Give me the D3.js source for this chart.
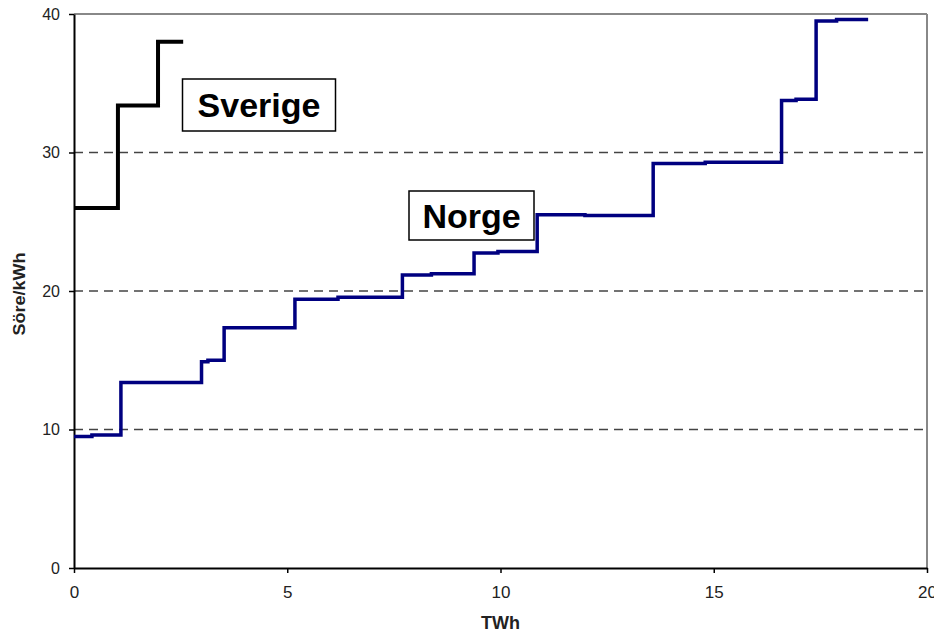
<!DOCTYPE html>
<html>
<head>
<meta charset="utf-8">
<script src="https://cdn.jsdelivr.net/npm/d3@7"></script>
<style>
  body { margin: 0; background: #fff; }
  text { font-family: Arial, "Liberation Sans", sans-serif; }
</style>
</head>
<body>
<div id="chart"></div>
<script>
// step curves: x = start of each step (TWh), y = price (øre/kWh); last x is the end
var sverigeX = [0, 1.03, 1.97, 2.56]
var sverigeY = [26, 33.4, 38]

var norgeX = [0, 0.42, 1.1, 2.99, 3.14, 3.52, 5.18, 6.19, 7.7, 8.38, 9.38, 9.94, 10.86, 11.98, 13.58, 14.8, 16.59, 16.93, 17.4, 17.88, 18.62]
var norgeY = [9.5, 9.6, 13.4, 14.9, 15.0, 17.35, 19.4, 19.55, 21.15, 21.25, 22.75, 22.85, 25.5, 25.45, 29.2, 29.3, 33.75, 33.85, 39.5, 39.6]

var xTicks = [0, 5, 10, 15, 20]
var yTicks = [0, 10, 20, 30, 40]
var gridTicks = [10, 20, 30]

var margin = {top: 14, right: 7, bottom: 67, left: 74},
    width = 934 - margin.left - margin.right,
    height = 635 - margin.top - margin.bottom;

var svg = d3.select("#chart")
  .append("svg")
  .attr("width", 934)
  .attr("height", 635)
  .append("g")
  .attr("transform", "translate(" + margin.left + "," + margin.top + ")");

var x = d3.scaleLinear().domain([0, 20]).range([0, width])
var y = d3.scaleLinear().domain([0, 40]).range([height, 0])

// frame: grey top/right
svg.append("line")
  .attr("x1", 0).attr("x2", width).attr("y1", 0).attr("y2", 0)
  .attr("stroke", "#888").attr("stroke-width", 2)
svg.append("line")
  .attr("x1", width).attr("x2", width).attr("y1", 0).attr("y2", height)
  .attr("stroke", "#888").attr("stroke-width", 2)

// dashed grid
svg.append("g")
  .selectAll("line")
  .data(gridTicks)
  .enter()
  .append("line")
  .attr("x1", 0).attr("x2", width)
  .attr("y1", d => y(d)).attr("y2", d => y(d))
  .attr("stroke", "#444")
  .attr("stroke-width", 1.5)
  .attr("stroke-dasharray", "9,6")

// axes
var yAxis = svg.append("g")
  .call(d3.axisLeft(y).tickValues(yTicks).tickSize(5).tickSizeOuter(0))
yAxis.select(".domain").attr("stroke", "#000").attr("stroke-width", 2)
yAxis.selectAll(".tick line").attr("stroke", "#000").attr("stroke-width", 1.5)
yAxis.selectAll(".tick text").attr("font-size", 16).attr("fill", "#222").attr("x", -14)

var xAxis = svg.append("g")
  .attr("transform", "translate(0," + height + ")")
  .call(d3.axisBottom(x).tickValues(xTicks).tickSize(5).tickSizeOuter(0))
xAxis.select(".domain").attr("stroke", "#000").attr("stroke-width", 2)
xAxis.selectAll(".tick line").attr("stroke", "#000").attr("stroke-width", 1.5)
xAxis.selectAll(".tick text").attr("font-size", 17).attr("fill", "#222").attr("y", 18)

// axis titles
svg.append("text")
  .attr("x", width / 2)
  .attr("y", height + 61)
  .attr("text-anchor", "middle")
  .attr("font-size", 18)
  .attr("font-weight", "bold")
  .attr("fill", "#222")
  .text("TWh")

svg.append("text")
  .attr("transform", "rotate(-90)")
  .attr("x", -(294 - margin.top))
  .attr("y", 19 - margin.left)
  .attr("dy", "0.35em")
  .attr("text-anchor", "middle")
  .attr("font-size", 16)
  .attr("font-weight", "bold")
  .attr("fill", "#222")
  .attr("textLength", 83)
  .attr("lengthAdjust", "spacingAndGlyphs")
  .text("Söre/kWh")

function stepPoints(xs, ys) {
  var pts = []
  for (var i = 0; i < ys.length; i++) {
    pts.push([xs[i], ys[i]])
    pts.push([xs[i + 1], ys[i]])
  }
  return pts
}

var line = d3.line()
  .x(d => x(d[0]))
  .y(d => y(d[1]))

svg.append("path")
  .datum(stepPoints(norgeX, norgeY))
  .attr("d", line)
  .attr("fill", "none")
  .attr("stroke", "#000080")
  .attr("stroke-width", 3.5)

svg.append("path")
  .datum(stepPoints(sverigeX, sverigeY))
  .attr("d", line)
  .attr("fill", "none")
  .attr("stroke", "#000")
  .attr("stroke-width", 4)

// labels in boxes
function boxLabel(txt, cx, cy, w, h) {
  var g = svg.append("g")
  g.append("rect")
    .attr("x", cx - w / 2).attr("y", cy - h / 2)
    .attr("width", w).attr("height", h)
    .attr("fill", "#fff")
    .attr("stroke", "#000")
    .attr("stroke-width", 1.5)
  g.append("text")
    .attr("x", cx).attr("y", cy)
    .attr("dy", "0.36em")
    .attr("text-anchor", "middle")
    .attr("font-size", 34)
    .attr("font-weight", "bold")
    .attr("fill", "#000")
    .text(txt)
}

boxLabel("Sverige", 259 - margin.left, 105 - margin.top, 153, 52)
boxLabel("Norge", 471.5 - margin.left, 215.5 - margin.top, 125, 49)
</script>
</body>
</html>
